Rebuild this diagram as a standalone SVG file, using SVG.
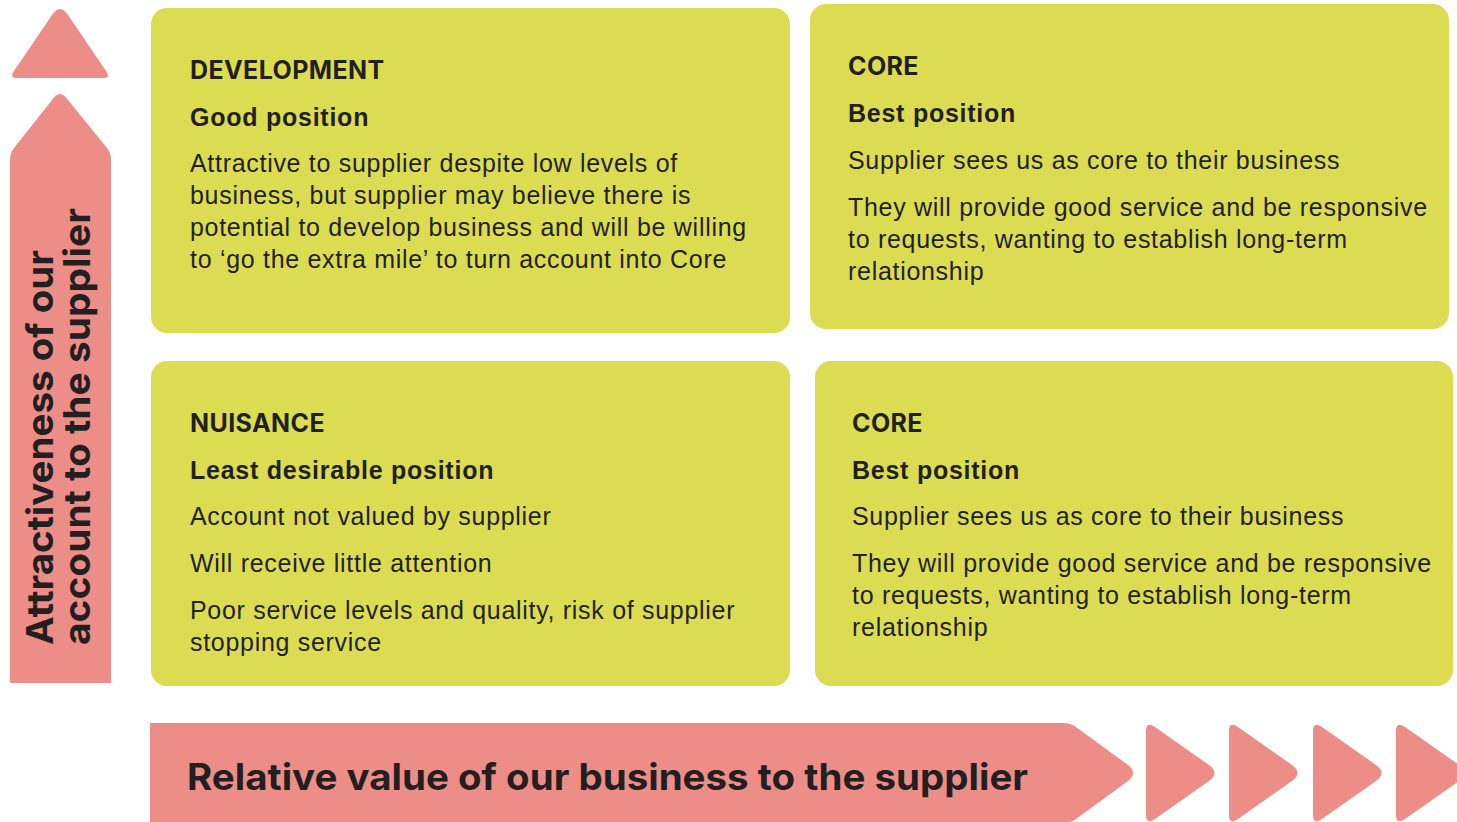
<svg xmlns="http://www.w3.org/2000/svg" width="1457" height="822" viewBox="0 0 1457 822">
<style>
.box{fill:#dcdc52}
.pink{fill:#ed8d87}
.h{font-family:Inter,"Liberation Sans",sans-serif;font-weight:700;font-size:25px;letter-spacing:0.4px;fill:#231f20}
.s{font-family:"Liberation Sans",Arial,sans-serif;font-weight:700;font-size:25px;letter-spacing:0.75px;fill:#231f20}
.b{font-family:"Liberation Sans",Arial,sans-serif;font-size:25px;letter-spacing:0.7px;fill:#231f20}
.big{font-family:Inter,"Liberation Sans",sans-serif;font-weight:700;font-size:37px;fill:#231f20}
</style>
<g id="axis-vertical">
<path class="pink" d="M14,71 L52,15 Q60,3 68,15 L106,71 Q111,78 103,78 L17,78 Q9,78 14,71 Z"/>
<path class="pink" d="M10,683 L10,160 Q10,153 14,148 L52,100 Q60,88 68,100 L107,148 Q111,153 111,160 L111,683 Z"/>
<text class="big" transform="rotate(-90)" x="-645" y="53" font-size="36" textLength="395" lengthAdjust="spacingAndGlyphs">Attractiveness of our</text>
<text class="big" transform="rotate(-90)" x="-645" y="90" font-size="36" textLength="437" lengthAdjust="spacingAndGlyphs">account to the supplier</text>
</g>
<g id="axis-horizontal">
<path class="pink" d="M150,723 L1064,723 Q1070,723 1076,727 L1128,765 Q1138,773 1128,781 L1076,819 Q1070,823 1064,823 L150,823 Z"/>
<path id="chev" class="pink" d="M1146,731 Q1146,721 1155,727 L1209,765 Q1220,773 1209,781 L1155,819 Q1146,825 1146,815 Z"/>
<use href="#chev" x="83"/>
<use href="#chev" x="167"/>
<use href="#chev" x="250"/>
<text class="big" x="187" y="790" textLength="841" lengthAdjust="spacingAndGlyphs">Relative value of our business to the supplier</text>
</g>
<g id="development">
<rect class="box" x="151" y="8" width="639" height="325" rx="16"/>
<text class="h" x="190" y="79">DEVELOPMENT</text>
<text class="s" x="190" y="126">Good position</text>
<text class="b" x="190" y="172">Attractive to supplier despite low levels of</text>
<text class="b" x="190" y="204">business, but supplier may believe there is</text>
<text class="b" x="190" y="236">potential to develop business and will be willing</text>
<text class="b" x="190" y="268">to ‘go the extra mile’ to turn account into Core</text>
</g>
<g id="core-top">
<rect class="box" x="810" y="4" width="639" height="325" rx="16"/>
<text class="h" x="848" y="75">CORE</text>
<text class="s" x="848" y="122">Best position</text>
<text class="b" x="848" y="169">Supplier sees us as core to their business</text>
<text class="b" x="848" y="216">They will provide good service and be responsive</text>
<text class="b" x="848" y="248">to requests, wanting to establish long-term</text>
<text class="b" x="848" y="280">relationship</text>
</g>
<g id="nuisance">
<rect class="box" x="151" y="361" width="639" height="325" rx="16"/>
<text class="h" x="190" y="432">NUISANCE</text>
<text class="s" x="190" y="479">Least desirable position</text>
<text class="b" x="190" y="525">Account not valued by supplier</text>
<text class="b" x="190" y="572">Will receive little attention</text>
<text class="b" x="190" y="619">Poor service levels and quality, risk of supplier</text>
<text class="b" x="190" y="651">stopping service</text>
</g>
<g id="core-bottom">
<rect class="box" x="815" y="361" width="638" height="325" rx="16"/>
<text class="h" x="852" y="432">CORE</text>
<text class="s" x="852" y="479">Best position</text>
<text class="b" x="852" y="525">Supplier sees us as core to their business</text>
<text class="b" x="852" y="572">They will provide good service and be responsive</text>
<text class="b" x="852" y="604">to requests, wanting to establish long-term</text>
<text class="b" x="852" y="636">relationship</text>
</g>
<g id="connectors"/>
</svg>
